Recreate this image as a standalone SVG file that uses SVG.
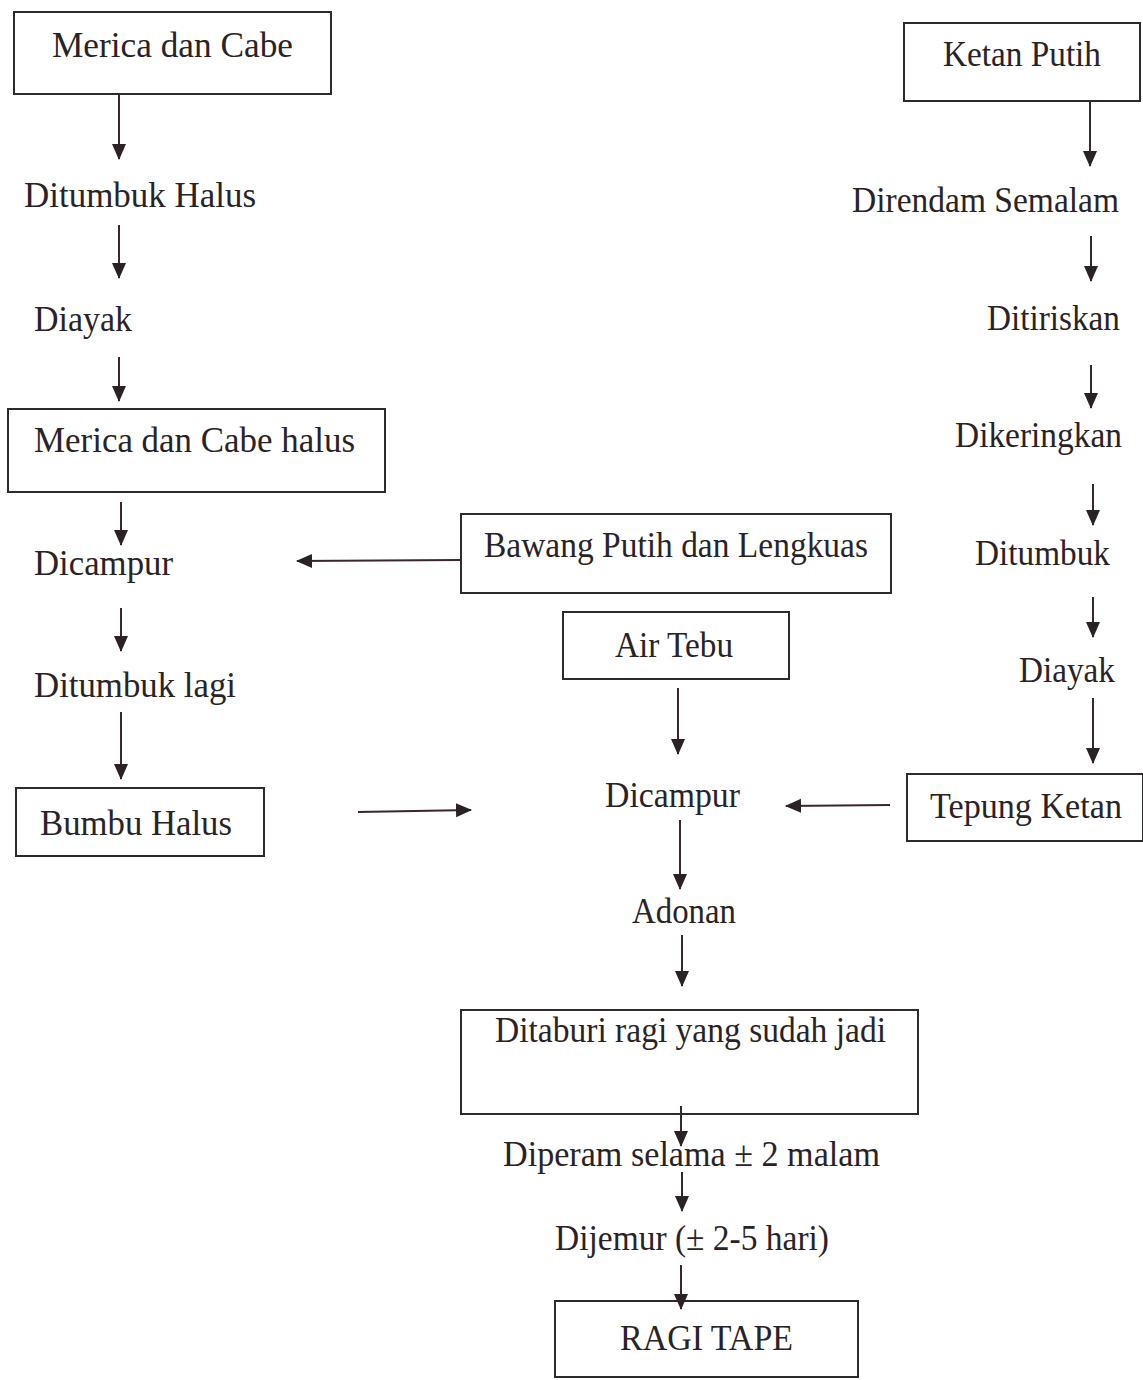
<svg xmlns="http://www.w3.org/2000/svg" width="1143" height="1380" viewBox="0 0 1143 1380">
<style>
.box{fill:none;stroke:#2e2a2c;stroke-width:2}
.t{font-family:"Liberation Serif","Times New Roman",serif;font-size:36px;fill:#2a2326}
.c line{stroke:#3a2530;stroke-width:2;marker-end:url(#ah)}
</style>
<defs>
<marker id="ah" markerUnits="userSpaceOnUse" markerWidth="16" markerHeight="16" refX="15" refY="7" orient="auto">
<path d="M0,0 L16,7 L0,14 Z" fill="#2a2226"/>
</marker>
</defs>
<rect width="1143" height="1380" fill="#ffffff"/>
<g id="n-merica"><rect class="box" x="14" y="12" width="317" height="82"/><text class="t" x="52" y="57" textLength="241" lengthAdjust="spacingAndGlyphs">Merica dan Cabe</text></g>
<g id="n-ditumbukhalus"><text class="t" x="24" y="207" textLength="232" lengthAdjust="spacingAndGlyphs">Ditumbuk Halus</text></g>
<g id="n-diayak1"><text class="t" x="34" y="331" textLength="98" lengthAdjust="spacingAndGlyphs">Diayak</text></g>
<g id="n-mericahalus"><rect class="box" x="8" y="409" width="377" height="83"/><text class="t" x="34" y="452" textLength="321" lengthAdjust="spacingAndGlyphs">Merica dan Cabe halus</text></g>
<g id="n-dicampur1"><text class="t" x="34" y="575" textLength="139" lengthAdjust="spacingAndGlyphs">Dicampur</text></g>
<g id="n-ditumbuklagi"><text class="t" x="34" y="697" textLength="202" lengthAdjust="spacingAndGlyphs">Ditumbuk lagi</text></g>
<g id="n-bumbu"><rect class="box" x="16" y="788" width="248" height="68"/><text class="t" x="40" y="835" textLength="192" lengthAdjust="spacingAndGlyphs">Bumbu Halus</text></g>
<g id="n-bawang"><rect class="box" x="461" y="514" width="430" height="79"/><text class="t" x="484" y="557" textLength="384" lengthAdjust="spacingAndGlyphs">Bawang Putih dan Lengkuas</text></g>
<g id="n-airtebu"><rect class="box" x="563" y="612" width="226" height="67"/><text class="t" x="615" y="657" textLength="118" lengthAdjust="spacingAndGlyphs">Air Tebu</text></g>
<g id="n-dicampur2"><text class="t" x="605" y="807" textLength="135" lengthAdjust="spacingAndGlyphs">Dicampur</text></g>
<g id="n-adonan"><text class="t" x="632" y="923" textLength="104" lengthAdjust="spacingAndGlyphs">Adonan</text></g>
<g id="n-ditaburi"><rect class="box" x="461" y="1010" width="457" height="104"/><text class="t" x="495" y="1042" textLength="391" lengthAdjust="spacingAndGlyphs">Ditaburi ragi yang sudah jadi</text></g>
<g id="n-diperam"><text class="t" x="503" y="1166" textLength="377" lengthAdjust="spacingAndGlyphs">Diperam selama ± 2 malam</text></g>
<g id="n-dijemur"><text class="t" x="555" y="1250" textLength="274" lengthAdjust="spacingAndGlyphs">Dijemur (± 2-5 hari)</text></g>
<g id="n-ragitape"><rect class="box" x="555" y="1301" width="303" height="76"/><text class="t" x="620" y="1350" textLength="173" lengthAdjust="spacingAndGlyphs">RAGI TAPE</text></g>
<g id="n-ketan"><rect class="box" x="904" y="23" width="236" height="78"/><text class="t" x="943" y="66" textLength="158" lengthAdjust="spacingAndGlyphs">Ketan Putih</text></g>
<g id="n-direndam"><text class="t" x="852" y="212" textLength="267" lengthAdjust="spacingAndGlyphs">Direndam Semalam</text></g>
<g id="n-ditiriskan"><text class="t" x="987" y="330" textLength="133" lengthAdjust="spacingAndGlyphs">Ditiriskan</text></g>
<g id="n-dikeringkan"><text class="t" x="955" y="447" textLength="167" lengthAdjust="spacingAndGlyphs">Dikeringkan</text></g>
<g id="n-ditumbuk"><text class="t" x="975" y="565" textLength="135" lengthAdjust="spacingAndGlyphs">Ditumbuk</text></g>
<g id="n-diayak2"><text class="t" x="1019" y="682" textLength="96" lengthAdjust="spacingAndGlyphs">Diayak</text></g>
<g id="n-tepung"><rect class="box" x="907" y="774" width="236" height="67"/><text class="t" x="930" y="818" textLength="192" lengthAdjust="spacingAndGlyphs">Tepung Ketan</text></g>
<g id="connectors" class="c">
<line x1="119" y1="94" x2="119" y2="159"/>
<line x1="119" y1="225" x2="119" y2="278"/>
<line x1="119" y1="357" x2="119" y2="401"/>
<line x1="121" y1="502" x2="121" y2="545"/>
<line x1="121" y1="608" x2="121" y2="651"/>
<line x1="121" y1="712" x2="121" y2="779"/>
<line x1="461" y1="560" x2="297" y2="561"/>
<line x1="358" y1="812" x2="471" y2="810"/>
<line x1="678" y1="688" x2="678" y2="754"/>
<line x1="890" y1="805" x2="786" y2="806"/>
<line x1="680" y1="820" x2="680" y2="889"/>
<line x1="682" y1="935" x2="682" y2="986"/>
<line x1="681" y1="1106" x2="681" y2="1146"/>
<line x1="682" y1="1172" x2="682" y2="1211"/>
<line x1="681" y1="1265" x2="681" y2="1309"/>
<line x1="1090" y1="101" x2="1090" y2="166"/>
<line x1="1091" y1="236" x2="1091" y2="281"/>
<line x1="1091" y1="365" x2="1091" y2="408"/>
<line x1="1093" y1="484" x2="1093" y2="525"/>
<line x1="1093" y1="597" x2="1093" y2="637"/>
<line x1="1093" y1="698" x2="1093" y2="763"/>
</g>
</svg>
